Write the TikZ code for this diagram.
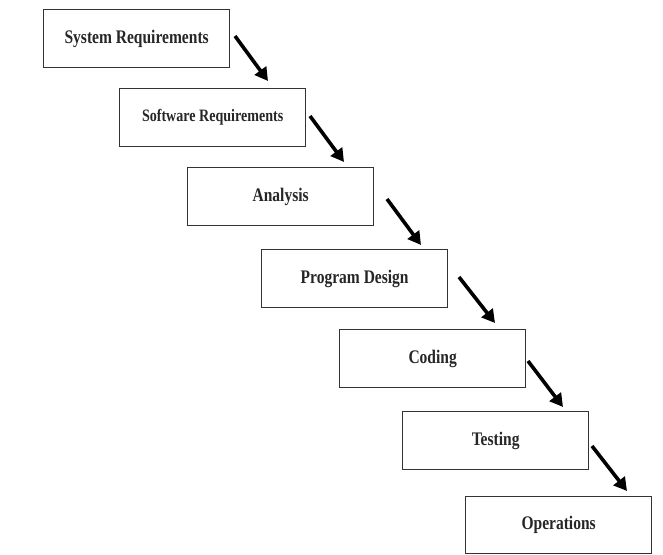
\documentclass[tikz,border=0pt]{standalone}
\usepackage{fontspec}
\usepackage{graphicx}
\setmainfont{Liberation Serif}
\usetikzlibrary{arrows.meta}
\newcommand{\talltext}[1]{\scalebox{0.97}[1.2]{#1}}
\tikzset{
  stage/.style={draw=black!80, line width=1.3pt, rectangle, anchor=north west,
    minimum width=186pt, minimum height=58pt, inner sep=0pt,
    font=\fontsize{16pt}{18pt}\selectfont\bfseries, text=black!85},
  flow/.style={line width=3.6pt, -{Triangle[length=13pt,width=14pt]}}
}
\begin{document}
\begin{tikzpicture}[x=1pt,y=-1pt]
\useasboundingbox (0,0) rectangle (663,554);
\node[stage] (sys) at (43,9) {\talltext{System Requirements}};
\node[stage, font=\fontsize{14.5pt}{17pt}\selectfont\bfseries] (sw) at (119,88) {\talltext{Software Requirements}};
\node[stage] (an) at (187,167) {\talltext{Analysis}};
\node[stage] (pd) at (261,249) {\talltext{Program Design}};
\node[stage] (cod) at (339,329) {\talltext{Coding}};
\node[stage] (tst) at (402,411) {\talltext{Testing}};
\node[stage, minimum height=57pt] (ops) at (465,496) {\talltext{Operations}};
\coordinate (s1) at (235,36);  \coordinate (e1) at (268,81);
\coordinate (s2) at (310,116); \coordinate (e2) at (344,162);
\coordinate (s3) at (387,199); \coordinate (e3) at (421,245);
\coordinate (s4) at (459,277); \coordinate (e4) at (495,323);
\coordinate (s5) at (528,361); \coordinate (e5) at (563,407);
\coordinate (s6) at (592,446); \coordinate (e6) at (627,491);
\draw[flow] (s1) -- (e1);
\draw[flow] (s2) -- (e2);
\draw[flow] (s3) -- (e3);
\draw[flow] (s4) -- (e4);
\draw[flow] (s5) -- (e5);
\draw[flow] (s6) -- (e6);
\end{tikzpicture}
\end{document}
